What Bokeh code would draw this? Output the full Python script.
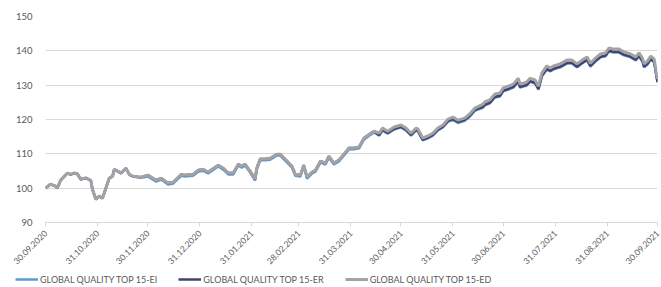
import numpy as np
from datetime import datetime
from bokeh.plotting import figure
from bokeh.layouts import column
from bokeh.models import FixedTicker, DatetimeTickFormatter, Legend, LegendItem, Range1d
from bokeh.embed import file_html
from bokeh.resources import INLINE

start_date = "2020-09-30"
day = [0,3,6,7,9,13,15,17,19,21,
       24,27,28,30,32,34,36,38,40,41,
       43,45,48,50,52,57,61,66,69,73,
       76,81,83,88,91,94,97,103,106,109,
       112,115,117,119,122,125,126,128,131,134,
       138,140,144,147,149,152,154,156,159,161,
       164,167,169,172,175,178,181,184,187,190,
       194,196,199,201,204,208,212,215,218,221,
       222,225,228,231,234,237,240,243,246,250,
       253,256,261,262,265,268,271,273,276,279,
       282,283,287,289,292,294,296,299,301,303,
       307,311,314,317,320,323,325,328,331,334,
       336,339,342,345,349,352,354,356,357,359,
       361,363,365]

ed = [100.0,101.2,100.6,100.0,102.3,104.4,104.0,104.4,104.2,102.6,
      103.0,102.3,99.7,96.8,97.7,97.1,100.0,102.9,103.5,105.5,
      105.0,104.4,105.8,104.0,103.5,103.2,103.8,102.3,102.9,101.5,
      101.7,104.0,103.8,104.0,105.2,105.5,104.7,106.7,105.8,104.4,
      104.4,107.0,106.4,107.0,105.0,102.6,105.8,108.5,108.5,108.7,
      109.9,109.9,107.9,106.4,104.0,103.8,106.7,103.2,104.7,105.2,
      107.9,107.3,109.3,107.3,108.2,109.9,111.7,111.7,112.0,114.6,
      116.0,116.6,116.0,117.5,116.6,117.8,118.4,117.5,116.0,117.5,
      117.3,114.6,115.2,116.0,117.5,118.4,120.1,120.7,119.8,120.4,
      121.6,123.3,124.5,125.1,125.7,127.4,127.7,129.2,129.7,130.3,
      132.0,130.3,130.9,132.0,131.5,129.7,133.5,135.6,135.0,135.6,
      136.2,137.3,137.3,136.2,137.3,138.2,136.4,137.9,139.1,139.4,
      140.8,140.5,140.5,139.7,139.1,138.2,139.4,137.9,136.2,137.0,
      138.5,137.6,131.8]

er = [100.0,101.2,100.6,100.0,102.3,104.4,104.0,104.4,104.2,102.6,
      103.0,102.3,99.7,96.8,97.7,97.1,100.0,102.9,103.5,105.5,
      105.0,104.4,105.8,104.0,103.5,103.2,103.8,102.3,102.9,101.5,
      101.7,104.0,103.8,104.0,105.2,105.5,104.7,106.7,105.8,104.4,
      104.4,107.0,106.4,107.0,105.0,102.6,105.8,108.5,108.5,108.7,
      109.9,109.9,107.9,106.4,104.0,103.8,106.7,103.2,104.7,105.2,
      107.9,107.3,109.3,107.3,108.2,109.9,111.7,111.7,112.0,114.6,
      116.0,116.6,115.5,117.0,116.1,117.3,117.9,117.0,115.5,117.0,
      116.8,114.1,114.7,115.5,117.0,117.9,119.6,120.2,119.3,119.9,
      121.1,122.8,123.7,124.3,124.9,126.6,126.9,128.4,128.9,129.5,
      131.2,129.5,130.1,131.2,130.7,128.9,132.7,134.8,134.2,134.8,
      135.4,136.5,136.5,135.4,136.5,137.4,135.6,137.1,138.3,138.6,
      140.0,139.7,139.7,138.9,138.3,137.4,138.6,137.1,135.4,136.2,
      137.7,136.8,131.0]

ei = [100.0,101.1,100.5,99.9,102.2,104.3,103.9,104.3,104.1,102.5,
      102.9,102.2,99.6,96.7,97.6,97.0,99.9,102.8,103.4,105.4,
      104.9,104.3,105.7,103.9,103.4,103.0,103.4,101.9,102.5,101.1,
      101.3,103.6,103.4,103.6,104.8,105.1,104.3,106.3,105.4,104.0,
      104.0,106.6,106.0,106.6,104.6,102.2,105.4,108.1,108.1,108.3,
      109.5,109.5,107.5,106.0,103.6,103.4,106.3,102.8,104.3,104.8,
      107.5,106.9,108.9,106.9,107.8,109.5,111.3,111.3,111.6,114.2,
      115.6,116.2,115.3,116.8,115.9,117.1,117.7,116.8,115.3,116.8,
      116.6,113.9,114.5,115.3,116.8,117.7,119.3,119.9,119.0,119.6,
      120.8,122.5,123.5,124.1,124.7,126.4,126.7,128.2,128.7,129.3,
      131.0,129.3,129.9,131.0,130.5,128.7,132.5,134.6,134.0,134.6,
      135.2,136.3,136.3,135.2,136.3,137.2,135.4,136.9,138.1,138.4,
      139.8,139.5,139.5,138.7,138.1,137.2,138.4,136.9,135.2,136.0,
      137.5,136.6,130.8]

tick_labels = ["30.09.2020", "31.10.2020", "30.11.2020", "31.12.2020", "31.01.2021",
               "28.02.2021", "31.03.2021", "30.04.2021", "31.05.2021", "30.06.2021",
               "31.07.2021", "31.08.2021", "30.09.2021"]
y_ticks = [90, 100, 110, 120, 130, 140, 150]
series_names = ["GLOBAL QUALITY TOP 15-EI", "GLOBAL QUALITY TOP 15-ER", "GLOBAL QUALITY TOP 15-ED"]
colors = ["#5B9BD5", "#44426E", "#A3A3A3"]
widths = [2.5, 2.5, 3]

dates = (np.datetime64(start_date) + np.array(day, dtype="timedelta64[D]")).astype("datetime64[ms]")
tick_dt = [datetime.strptime(t, "%d.%m.%Y") for t in tick_labels]
tick_ms = [(np.datetime64(d.strftime("%Y-%m-%d")) - np.datetime64("1970-01-01")).astype("timedelta64[ms]").astype(np.int64).item() for d in tick_dt]

FONT = "Lato"
TXT = "#595959"

p = figure(width=661, height=273, x_axis_type="datetime",
           x_range=Range1d(tick_dt[0], tick_dt[-1]), y_range=Range1d(90, 150),
           output_backend="svg", toolbar_location=None,
           min_border_left=45, min_border_right=4, min_border_top=16, min_border_bottom=51)
p.frame_align = False
p.outline_line_color = None
p.background_fill_color = "white"

for ser, col, w in zip([ei, er, ed], colors, widths):
    p.line(dates, ser, line_color=col, line_width=w)

p.xgrid.grid_line_color = None
p.ygrid.grid_line_color = "#D9D9D9"
p.ygrid.grid_line_width = 1

p.yaxis.ticker = FixedTicker(ticks=y_ticks)
p.yaxis.axis_line_color = None
p.yaxis.major_tick_line_color = None
p.yaxis.minor_tick_line_color = None
p.yaxis.major_label_text_font = FONT
p.yaxis.major_label_text_font_size = "9.5px"
p.yaxis.major_label_text_color = TXT
p.yaxis.major_label_standoff = 7

p.xaxis.ticker = FixedTicker(ticks=tick_ms)
fmt = "%d.%m.%Y"
p.xaxis.formatter = DatetimeTickFormatter(days=fmt, months=fmt, years=fmt, hours=fmt, hourmin=fmt)
p.xaxis.axis_line_color = "#D9D9D9"
p.xaxis.major_tick_line_color = "#D9D9D9"
p.xaxis.major_tick_in = 0
p.xaxis.major_tick_out = 4
p.xaxis.minor_tick_line_color = None
p.xaxis.major_label_orientation = np.pi / 4
p.xaxis.major_label_text_font = FONT
p.xaxis.major_label_text_font_size = "8.5px"
p.xaxis.major_label_text_color = TXT
p.xaxis.major_label_standoff = 5

# legend strip below the chart
lg = figure(width=661, height=14, output_backend="svg", toolbar_location=None,
            min_border=0, x_axis_location=None, y_axis_location=None,
            x_range=Range1d(0, 1), y_range=Range1d(0, 1))
lg.frame_align = False
lg.grid.visible = False
lg.outline_line_color = None
items = []
for name, col, w in zip(series_names, colors, widths):
    r = lg.line([np.nan, np.nan], [np.nan, np.nan], line_color=col, line_width=w)
    items.append(LegendItem(label=name, renderers=[r]))
legend = Legend(items=items, orientation="horizontal", location=(15, 2),
                spacing=21, glyph_width=23, glyph_height=12, label_height=12,
                label_standoff=2, padding=0, margin=0,
                border_line_color=None, background_fill_alpha=0,
                label_text_font=FONT, label_text_font_size="9px", label_text_color=TXT)
lg.add_layout(legend)

layout = column(p, lg, spacing=0)
open("out.html", "w").write(file_html(layout, INLINE))
